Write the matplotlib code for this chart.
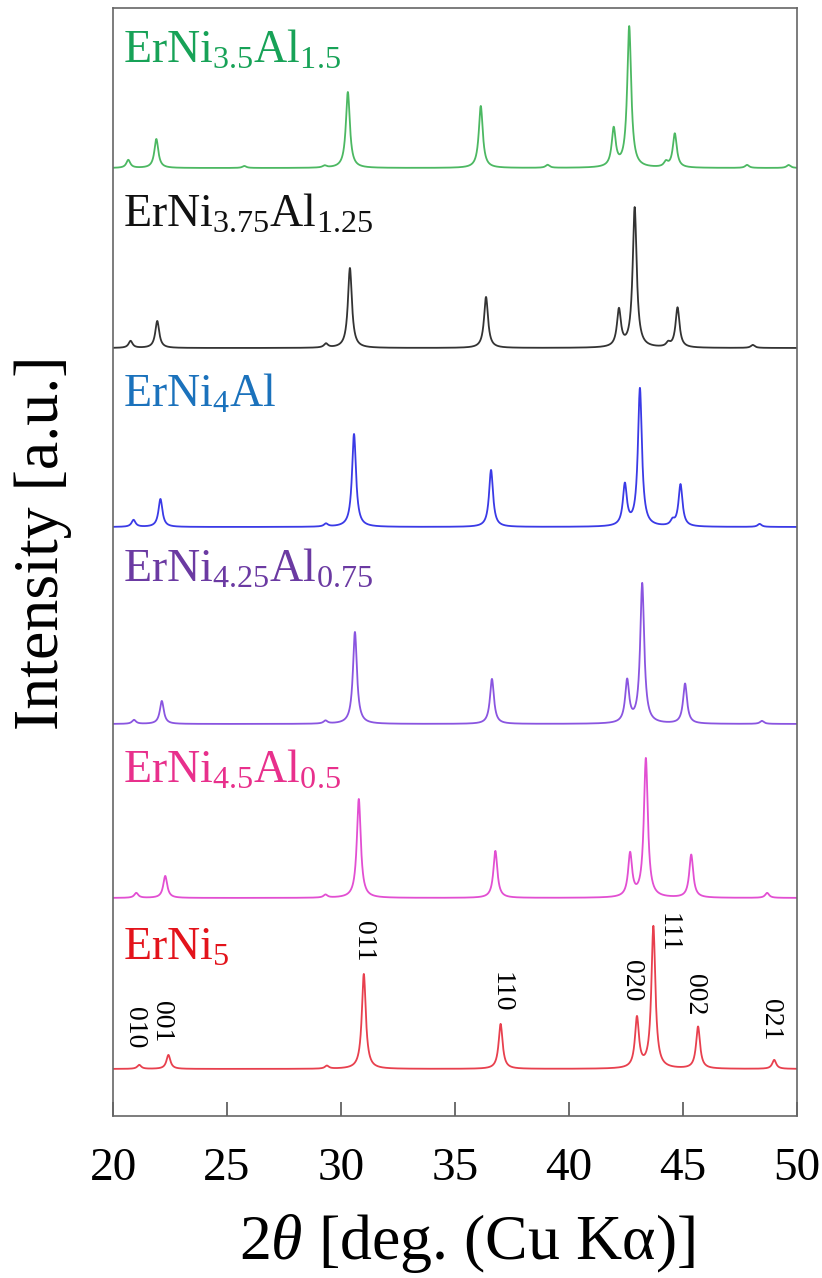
import numpy as np
import matplotlib
matplotlib.use("Agg")
import matplotlib.pyplot as plt

plt.rcParams['font.family'] = ['Liberation Serif', 'DejaVu Serif']
plt.rcParams['mathtext.fontset'] = 'custom'
plt.rcParams['mathtext.rm'] = 'Liberation Serif'
plt.rcParams['mathtext.it'] = 'Liberation Serif:italic'

# sample names, bottom to top
names = [r'ErNi$_5$', r'ErNi$_{4.5}$Al$_{0.5}$', r'ErNi$_{4.25}$Al$_{0.75}$',
         r'ErNi$_4$Al', r'ErNi$_{3.75}$Al$_{1.25}$', r'ErNi$_{3.5}$Al$_{1.5}$']
offsets = [47, 218, 392, 589, 768, 948]

# peak positions (2theta, deg) and heights (a.u.)
pos_erni5 = [21.15, 22.43, 29.38, 31.0, 37.0, 42.98, 43.7, 45.66, 49.0]
h_erni5 = [4, 14, 3, 95, 45, 50, 142, 42, 9]

pos_al05 = [21.02, 22.29, 29.32, 30.78, 36.77, 42.68, 43.37, 45.36, 48.69]
h_al05 = [5, 22, 3, 99, 47, 43, 139, 43, 5]

pos_al075 = [20.92, 22.14, 29.32, 30.61, 36.62, 42.55, 43.21, 45.09, 48.46]
h_al075 = [4, 23, 3, 92, 45, 42, 140, 40, 3]

pos_al1 = [20.9, 22.08, 29.34, 30.57, 36.58, 42.45, 43.11, 44.54, 44.89, 48.36]
h_al1 = [7, 28, 3, 93, 57, 41, 138, 5, 42, 3]

pos_al125 = [20.77, 21.94, 29.34, 30.39, 36.36, 42.19, 42.88, 44.35, 44.76, 48.06]
h_al125 = [7, 27, 4, 80, 51, 37, 140, 4, 40, 3]

pos_al15 = [20.67, 21.9, 25.76, 29.28, 30.3, 36.13, 39.06, 41.96, 42.64, 44.25, 44.64, 47.81, 49.63]
h_al15 = [8, 29, 2, 2, 76, 62, 3, 38, 141, 5, 34, 3, 3]

all_pos = [pos_erni5, pos_al05, pos_al075, pos_al1, pos_al125, pos_al15]
all_h = [h_erni5, h_al05, h_al075, h_al1, h_al125, h_al15]

line_colors = ['#e8404e', '#e24fd2', '#8a55e0', '#3a3ae6', '#333333', '#4cb862']
text_colors = ['#e3131b', '#e8308c', '#6b3aa2', '#1b72bc', '#111111', '#17a257']
label_y = [156, 333, 534, 709, 889, 1053]

# Miller indices for ErNi5
hkl = ['010', '001', '011', '110', '020', '111', '002', '021']
hkl_x = [20.92, 22.13, 31.0, 37.0, 42.72, 44.35, 45.52, 48.85]
hkl_y = [88, 94, 175, 124, 135, 183, 121, 96]

fwhm = 0.21
x = np.linspace(20, 50, 3001)

fig = plt.figure(figsize=(8.22, 12.78), dpi=100)
ax = fig.add_axes([0.1375, 0.1268, 0.8321, 0.8669])

g = fwhm / 2
for i in range(len(names)):
    y = np.zeros_like(x)
    for p, h in zip(all_pos[i], all_h[i]):
        y += h * g**2 / ((x - p)**2 + g**2)
    ax.plot(x, y + offsets[i], color=line_colors[i], lw=1.3)
    ax.text(20.44, label_y[i], names[i], color=text_colors[i], fontsize=33,
            ha='left', va='baseline')

for t, px, py in zip(hkl, hkl_x, hkl_y):
    ax.text(px, py, t, rotation=270, fontsize=20, ha='center', va='center', color='black')

ax.set_xlim(20, 50)
ax.set_ylim(0, 1108)
ax.set_yticks([])
ax.set_xticks([20, 25, 30, 35, 40, 45, 50])
ax.tick_params(axis='x', direction='in', length=10, width=1.2, color='#555555',
               labelsize=34, pad=23)
for s in ax.spines.values():
    s.set_color('#666666')
    s.set_linewidth(1.2)

ax.set_xlabel(r'2$\theta$ [deg. (Cu K' + '\u03b1' + ')]', fontsize=46)
ax.xaxis.set_label_coords(0.518, -0.087)
ax.set_ylabel('Intensity [a.u.]', fontsize=46)
ax.yaxis.set_label_coords(-0.06, 0.517)

fig.savefig('out.png', dpi=100)
